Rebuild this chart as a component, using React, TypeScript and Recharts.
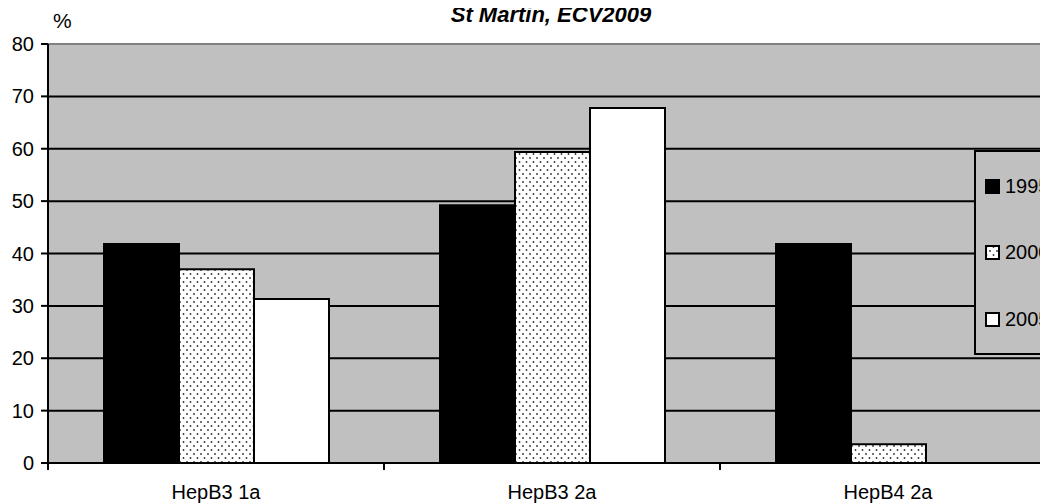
import { BarChart, Bar, XAxis, YAxis, CartesianGrid, Legend, ReferenceLine } from 'recharts';

const categories = ['HepB3 1a', 'HepB3 2a', 'HepB4 2a'];
const years = ['1995', '2000', '2005'];
const values1995 = [41.8, 49.2, 41.8];
const values2000 = [37, 59.4, 3.6];
const values2005 = [31.3, 67.8, null];
const yTicks = [0, 10, 20, 30, 40, 50, 60, 70, 80];
const gridLines = [10, 20, 30, 40, 50, 60, 70];

const data = categories.map((name, i) => ({
    name,
    y1995: values1995[i],
    y2000: values2000[i],
    y2005: values2005[i],
}));

const FONT = '"Liberation Sans", Arial, sans-serif';
const fills = ['#000000', 'url(#dots)', '#ffffff'];

function CategoryTick(props: any) {
    const { x, y, payload, width } = props;
    const band = (width || 1008) / categories.length;
    const left = x - band / 2;
    return (
        <g>
            <line x1={left} y1={y} x2={left} y2={y + 7} stroke="#000" strokeWidth={2} />
            <line x1={left + band} y1={y} x2={left + band} y2={y + 7} stroke="#000" strokeWidth={2} />
            <text x={x} y={y + 36} textAnchor="middle" fill="#000" fontSize={20} fontFamily={FONT}>
                {payload.value}
            </text>
        </g>
    );
}

function LegendBox() {
    const rows = [34, 100, 167];
    return (
        <div
            style={{
                position: 'relative',
                width: 100,
                height: 201,
                border: '2px solid #000',
                background: '#c0c0c0',
                fontFamily: FONT,
                fontSize: 20,
            }}
        >
            {years.map((yr, i) => (
                <div
                    key={yr}
                    style={{
                        position: 'absolute',
                        left: 9,
                        top: rows[i] - 12,
                        height: 24,
                        display: 'flex',
                        alignItems: 'center',
                        color: '#000',
                    }}
                >
                    <svg width={15} height={15} style={{ marginRight: 5 }}>
                        <rect x={1} y={1} width={13} height={13} fill={fills[i]} stroke="#000" strokeWidth={2} />
                    </svg>
                    {yr}
                </div>
            ))}
        </div>
    );
}

export default function App() {
    return (
        <div style={{ position: 'relative', marginTop: -8, marginLeft: -8, width: 1048, height: 504, overflow: 'hidden', background: '#fff', fontFamily: FONT }}>
            <BarChart
                width={1064}
                height={504}
                data={data}
                margin={{ top: 44, right: 8, left: 0, bottom: 0 }}
                barCategoryGap={56}
                barGap={0}
            >
                <defs>
                    <pattern id="dots" width={7} height={8} patternUnits="userSpaceOnUse">
                        <rect width={7} height={8} fill="#ffffff" />
                        <circle cx={1.5} cy={2} r={0.9} fill="#333" />
                        <circle cx={5} cy={6} r={0.9} fill="#333" />
                    </pattern>
                </defs>
                {/* chart title and the unit over the value axis */}
                <text x={551} y={22} textAnchor="middle" fontSize={22} fontWeight="bold" fontStyle="italic" fontFamily={FONT} fill="#000">
                    St Martin, ECV2009
                </text>
                <text x={53} y={28} fontSize={21} fontFamily={FONT} fill="#000">
                    %
                </text>
                <CartesianGrid
                    vertical={false}
                    horizontalValues={gridLines}
                    stroke="#000"
                    strokeWidth={2}
                    fill="#c0c0c0"
                    fillOpacity={1}
                />
                <ReferenceLine y={80} stroke="#808080" strokeWidth={2} />
                <XAxis
                    dataKey="name"
                    height={41}
                    tickLine={false}
                    tickSize={0}
                    tickMargin={0}
                    axisLine={{ stroke: '#000', strokeWidth: 2 }}
                    tick={<CategoryTick />}
                    interval={0}
                />
                <YAxis
                    width={48}
                    domain={[0, 80]}
                    ticks={yTicks}
                    interval={0}
                    tickSize={7}
                    tickMargin={7}
                    axisLine={{ stroke: '#000', strokeWidth: 2 }}
                    tickLine={{ stroke: '#000', strokeWidth: 2 }}
                    tick={{ fill: '#000', fontSize: 20, fontFamily: FONT }}
                />
                <Legend
                    layout="horizontal"
                    align="center"
                    verticalAlign="middle"
                    wrapperStyle={{ position: 'absolute', left: 974, top: 150, width: 104, height: 205 }}
                    content={() => <LegendBox />}
                />
                <Bar dataKey="y1995" name="1995" fill={fills[0]} stroke="#000" strokeWidth={2} isAnimationActive={false} />
                <Bar dataKey="y2000" name="2000" fill={fills[1]} stroke="#000" strokeWidth={2} isAnimationActive={false} />
                <Bar dataKey="y2005" name="2005" fill={fills[2]} stroke="#000" strokeWidth={2} isAnimationActive={false} />
            </BarChart>
        </div>
    );
}
